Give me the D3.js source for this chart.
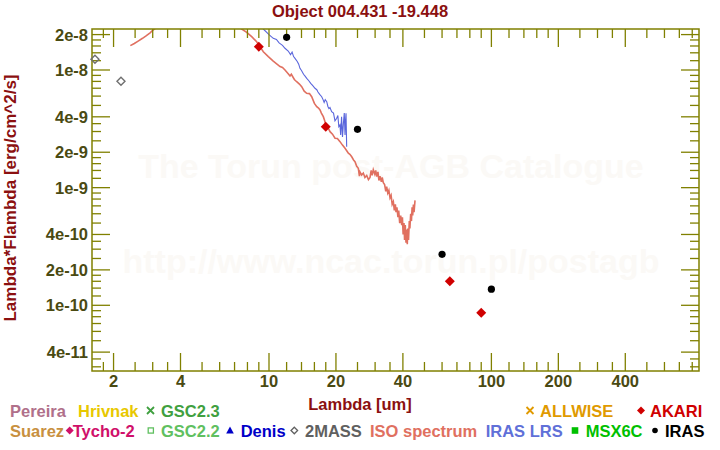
<!DOCTYPE html>
<html><head><meta charset="utf-8">
<script src="https://cdn.jsdelivr.net/npm/d3@7"></script>
<style>
body{margin:0;background:#fff}
svg{display:block}
text{font-family:"Liberation Sans",Arial,Helvetica,sans-serif;font-weight:bold}
</style>
</head><body>
<svg id="chart" width="720" height="450"></svg>
<script>
// ---------- data ----------
const chartTitle = "Object 004.431 -19.448";
const xAxisLabel = "Lambda [um]";
const yAxisLabel = "Lambda*Flambda [erg/cm^2/s]";
const watermark1 = "The Torun post-AGB Catalogue";
const watermark2 = "http://www.ncac.torun.pl/postagb";

const xDomain = [1.6, 858];
const yDomain = [2.764e-11, 2.231e-8];

const xMajorTicks = [2, 4, 10, 20, 40, 100, 200, 400];
const xTickLabels = ["2", "4", "10", "20", "40", "100", "200", "400"];
const xMinorTicks = [1.8, 2.5, 3, 3.5, 5, 6, 7, 8, 9, 12, 14, 16, 18, 25, 30, 35, 50, 60, 70, 80, 90,
                     120, 140, 160, 180, 250, 300, 350, 500, 600, 700, 800];
const yMajorTicks = [4e-11, 1e-10, 2e-10, 4e-10, 1e-9, 2e-9, 4e-9, 1e-8, 2e-8];
const yTickLabels = ["4e-11", "1e-10", "2e-10", "4e-10", "1e-9", "2e-9", "4e-9", "1e-8", "2e-8"];
const yMinorTicks = [3e-11, 3.5e-11, 5e-11, 6e-11, 7e-11, 8e-11, 9e-11,
                     1.2e-10, 1.4e-10, 1.6e-10, 1.8e-10, 2.5e-10, 3e-10, 3.5e-10, 5e-10, 6e-10, 7e-10, 8e-10, 9e-10,
                     1.2e-9, 1.4e-9, 1.6e-9, 1.8e-9, 2.5e-9, 3e-9, 3.5e-9, 5e-9, 6e-9, 7e-9, 8e-9, 9e-9,
                     1.2e-8, 1.4e-8, 1.6e-8, 1.8e-8];

// photometry
const twoMassLambda = [1.65, 2.16];
const twoMassFlux = [1.233e-8, 8.02e-9];
const akariLambda = [9, 18, 65, 90];
const akariFlux = [1.578e-8, 3.30e-9, 1.60e-10, 8.65e-11];
const irasLambda = [12, 25, 60, 100];
const irasFlux = [1.897e-8, 3.13e-9, 2.71e-10, 1.37e-10];

// ISO spectrum [lambda, flux]
const isoSpectrum = [
 [2.38,1.61e-8],[2.48,1.68e-8],[2.58,1.76e-8],[2.70,1.86e-8],[2.80,1.95e-8],[2.92,2.07e-8],[3.02,2.20e-8],
 [3.3,2.45e-8],[3.7,2.7e-8],[4.2,2.95e-8],[4.8,3.1e-8],[5.5,3.1e-8],[6.2,2.9e-8],[6.9,2.55e-8],[7.54,2.23e-8],
 [7.94,2.09e-8],[8.36,1.92e-8],[8.80,1.74e-8],[9.04,1.61e-8],[9.43,1.43e-8],[9.93,1.30e-8],[10.45,1.19e-8],
 [11.21,1.07e-8],[11.5,1.05e-8],[11.80,1.00e-8],[12.2,9.3e-9],[12.43,8.9e-9],[12.6,9.2e-9],[13.0,8.3e-9],[13.32,7.95e-9],
 [13.7,7.6e-9],[14.03,7.21e-9],[14.4,6.6e-9],[14.77,6.34e-9],[15.2,6.3e-9],[15.56,5.93e-9],[16.0,5.2e-9],
 [16.39,4.88e-9],[16.7,4.75e-9],[16.96,4.57e-9],[17.2,4.3e-9],[17.55,4.01e-9],[17.8,3.7e-9],
 [18.04,3.36e-9],[18.4,3.25e-9],[18.81,2.99e-9],[19.3,2.85e-9],[19.81,2.63e-9],[20.3,2.62e-9],[20.86,2.46e-9],
 [21.4,2.30e-9],[21.97,2.16e-9],[22.4,2.05e-9],[22.74,1.96e-9],[23.1,1.92e-9],[23.55,1.83e-9],[24.0,1.72e-9],
 [24.36,1.66e-9],[24.8,1.52e-9],[25.21,1.46e-9],[25.5,1.25e-9],[25.66,1.36e-9],[26.1,1.28e-9],[26.55,1.33e-9],
 [27.0,1.22e-9],[27.5,1.27e-9],[28.0,1.17e-9],[28.46,1.22e-9],[28.8,1.40e-9],[29.1,1.27e-9],[29.44,1.42e-9],
 [29.9,1.30e-9],[30.2,1.40e-9],[30.5,1.24e-9],[30.9,1.36e-9],[31.2,1.15e-9],[31.56,1.25e-9],[32.0,1.12e-9],
 [32.3,1.22e-9],[32.66,1.10e-9],[33.1,1.06e-9],[33.5,0.93e-9],[33.82,1.02e-9],[34.2,0.90e-9],[34.6,0.95e-9],
 [35.01,0.82e-9],[35.4,0.86e-9],[35.8,0.72e-9],[36.23,0.76e-9],[36.6,0.64e-9],[37.0,0.72e-9],[37.24,0.62e-9],
 [37.6,0.68e-9],[38.0,0.56e-9],[38.3,0.64e-9],[38.7,0.50e-9],[39.1,0.58e-9],[39.52,0.48e-9],[39.8,0.56e-9],
 [40.1,0.40e-9],[40.46,0.50e-9],[40.7,0.36e-9],[41.0,0.48e-9],[41.3,0.34e-9],[41.6,0.44e-9],[41.86,0.33e-9],
 [42.1,0.45e-9],[42.4,0.36e-9],[42.74,0.52e-9],[43.0,0.45e-9],[43.36,0.60e-9],[43.7,0.52e-9],[44.0,0.68e-9],
 [44.27,0.58e-9],[44.6,0.72e-9],[44.9,0.62e-9],[45.35,0.78e-9]
];

// IRAS LRS spectrum [lambda, flux]
const lrsSpectrum = [
 [7.7,3.0e-8],[8.2,2.8e-8],[8.8,2.5e-8],[9.43,2.23e-8],[10.0,2.0e-8],[10.45,1.86e-8],[10.8,1.82e-8],[11.1,1.70e-8],
 [11.5,1.62e-8],[11.80,1.53e-8],[12.2,1.45e-8],[12.5,1.35e-8],[12.7,1.42e-8],[12.9,1.30e-8],[13.09,1.257e-8],
 [13.4,1.18e-8],[13.6,1.12e-8],[13.78,1.034e-8],[14.0,9.9e-9],[14.3,9.2e-9],[14.5,8.9e-9],[14.78,8.50e-9],
 [15.1,8.1e-9],[15.4,7.7e-9],[15.7,7.4e-9],[16.10,6.99e-9],[16.4,6.8e-9],[16.6,6.5e-9],[16.9,6.2e-9],[17.26,5.93e-9],
 [17.5,5.6e-9],[17.7,5.3e-9],[17.9,5.6e-9],[18.18,5.38e-9],[18.4,4.9e-9],[18.6,4.7e-9],[18.8,4.8e-9],[19.13,4.42e-9],
 [19.5,4.3e-9],[19.8,3.7e-9],[20.16,3.89e-9],[20.4,4.1e-9],
 [20.6,3.3e-9],[20.85,3.41e-9],[21.0,2.8e-9],[21.2,4.0e-9],[21.4,2.7e-9],[21.6,3.5e-9],[21.8,4.3e-9],
 [21.97,2.8e-9],[22.1,3.8e-9],[22.2,4.29e-9],[22.35,2.23e-9]
];

// legend
const legendRow1 = ["Pereira", "Hrivnak", "GSC2.3", "ALLWISE", "AKARI"];
const legendRow1Colors = ["#b0708a", "#e8c800", "#40a040", "#e09a00", "#d00000"];
const legendRow1Symbols = [null, null, "cross", "cross", "diamond"];
const legendRow2 = ["Suarez", "Tycho-2", "GSC2.2", "Denis", "2MASS", "ISO spectrum", "IRAS LRS", "MSX6C", "IRAS"];
const legendRow2Colors = ["#c89040", "#d0106a", "#60c060", "#0000c8", "#606060", "#e07060", "#6070d8", "#00c000", "#000000"];
const legendRow2Symbols = [null, "diamond", "square", "triangle", "hdiamond", null, null, "fsquare", "dot"];

// ---------- drawing ----------
const svg = d3.select("#chart");
const L = 92, R = 699, T = 29, B = 371;
const x = d3.scaleLog().domain(xDomain).range([L, R]);
const y = d3.scaleLog().domain(yDomain).range([B, T]);
const axisColor = "#808000";
const tickTextColor = "#4a4a12";
const darkRed = "#8b1010";

// watermarks
svg.append("text").attr("x", 391).attr("y", 178).attr("text-anchor", "middle")
  .attr("font-size", 34).attr("fill", "#fbf9f6").text(watermark1);
svg.append("text").attr("x", 391).attr("y", 273).attr("text-anchor", "middle")
  .attr("font-size", 34).attr("fill", "#fbf9f6").text(watermark2);

// clip
svg.append("defs").append("clipPath").attr("id", "clip")
  .append("rect").attr("x", L).attr("y", T).attr("width", R - L).attr("height", B - T);

// spectra
const line = d3.line().x(d => x(d[0])).y(d => y(d[1]));
const plot = svg.append("g").attr("clip-path", "url(#clip)");
plot.append("path").datum(isoSpectrum).attr("d", line).attr("fill", "none")
  .attr("stroke", "#e07060").attr("stroke-width", 1.6);
plot.append("path").datum(lrsSpectrum).attr("d", line).attr("fill", "none")
  .attr("stroke", "#5a66dc").attr("stroke-width", 1.1);

// frame
svg.append("rect").attr("x", L).attr("y", T).attr("width", R - L).attr("height", B - T)
  .attr("fill", "none").attr("stroke", axisColor).attr("stroke-width", 1.5);

const ticks = svg.append("g").attr("stroke", axisColor).attr("stroke-width", 1.3);
function xTick(v, len) {
  const px = x(v);
  ticks.append("line").attr("x1", px).attr("x2", px).attr("y1", B).attr("y2", B - len);
  ticks.append("line").attr("x1", px).attr("x2", px).attr("y1", T).attr("y2", T + len);
}
function yTick(v, len) {
  const py = y(v);
  ticks.append("line").attr("x1", L).attr("x2", L + len).attr("y1", py).attr("y2", py);
  ticks.append("line").attr("x1", R).attr("x2", R - len).attr("y1", py).attr("y2", py);
}
xMajorTicks.forEach(v => xTick(v, 18));
xMinorTicks.forEach(v => xTick(v, 9));
yMajorTicks.forEach(v => yTick(v, 18));
yMinorTicks.forEach(v => yTick(v, 9));

// tick labels
svg.append("g").selectAll("text").data(xMajorTicks).join("text")
  .attr("x", d => x(d)).attr("y", 387).attr("text-anchor", "middle")
  .attr("font-size", 16.5).attr("fill", tickTextColor)
  .text((d, i) => xTickLabels[i]);
svg.append("g").selectAll("text").data(yMajorTicks).join("text")
  .attr("x", 88).attr("y", d => y(d) + 6).attr("text-anchor", "end")
  .attr("font-size", 16.5).attr("fill", tickTextColor)
  .text((d, i) => yTickLabels[i]);

// titles
svg.append("text").attr("x", 360).attr("y", 17).attr("text-anchor", "middle")
  .attr("font-size", 16.5).attr("fill", darkRed).text(chartTitle);
svg.append("text").attr("x", 360).attr("y", 410).attr("text-anchor", "middle")
  .attr("font-size", 16.5).attr("fill", darkRed).text(xAxisLabel);
svg.append("text").attr("transform", "translate(16,198) rotate(-90)").attr("text-anchor", "middle")
  .attr("font-size", 17).attr("fill", darkRed).text(yAxisLabel);

// markers
function diamond(g, cx, cy, r, fill, stroke, sw) {
  g.append("path").attr("d", `M${cx},${cy - r}L${cx + r},${cy}L${cx},${cy + r}L${cx - r},${cy}Z`)
    .attr("fill", fill).attr("stroke", stroke || "none").attr("stroke-width", sw || 0);
}
const marks = svg.append("g");
twoMassLambda.forEach((l, i) => diamond(marks, x(l), y(twoMassFlux[i]), 4, "none", "#707070", 1.4));
akariLambda.forEach((l, i) => diamond(marks, x(l), y(akariFlux[i]), 5, "#d00000"));
marks.selectAll("circle").data(irasLambda).join("circle")
  .attr("cx", d => x(d)).attr("cy", (d, i) => y(irasFlux[i])).attr("r", 3.6).attr("fill", "#000");

// legend
const leg = svg.append("g");
function symbol(kind, cx, cy, color) {
  if (kind === "cross") {
    leg.append("path").attr("d", `M${cx-3.5},${cy-3.5}L${cx+3.5},${cy+3.5}M${cx-3.5},${cy+3.5}L${cx+3.5},${cy-3.5}`)
      .attr("stroke", color).attr("stroke-width", 1.8);
  } else if (kind === "diamond") {
    diamond(leg, cx, cy, 4, color);
  } else if (kind === "hdiamond") {
    diamond(leg, cx, cy, 3.3, "none", color, 1.3);
  } else if (kind === "square") {
    leg.append("rect").attr("x", cx - 2.6).attr("y", cy - 2.6).attr("width", 5.2).attr("height", 5.2)
      .attr("fill", "none").attr("stroke", color).attr("stroke-width", 1.3);
  } else if (kind === "fsquare") {
    leg.append("rect").attr("x", cx - 3.3).attr("y", cy - 3.3).attr("width", 6.6).attr("height", 6.6).attr("fill", color);
  } else if (kind === "triangle") {
    leg.append("path").attr("d", `M${cx},${cy-4}L${cx+3.8},${cy+3}L${cx-3.8},${cy+3}Z`).attr("fill", color);
  } else if (kind === "dot") {
    leg.append("circle").attr("cx", cx).attr("cy", cy).attr("r", 2.8).attr("fill", color);
  }
}
const row1Text = [10, 78, 161, 540, 650];
const row1Sym = [null, null, 150.5, 530, 641];
const row2Text = [10, 72.7, 161, 240.7, 305, 370, 485.7, 585.7, 665];
const row2Sym = [null, 69.7, 150.8, 230, 294.3, null, null, 575, 655];
legendRow1.forEach((t, i) => {
  if (legendRow1Symbols[i]) symbol(legendRow1Symbols[i], row1Sym[i], 410.5, legendRow1Colors[i]);
  leg.append("text").attr("x", row1Text[i]).attr("y", 416.5).attr("font-size", 16.5)
    .attr("fill", legendRow1Colors[i]).text(t);
});
legendRow2.forEach((t, i) => {
  if (legendRow2Symbols[i]) symbol(legendRow2Symbols[i], row2Sym[i], 430.5, legendRow2Colors[i]);
  leg.append("text").attr("x", row2Text[i]).attr("y", 436.5).attr("font-size", 16.5)
    .attr("fill", legendRow2Colors[i]).text(t);
});
</script>
</body></html>
